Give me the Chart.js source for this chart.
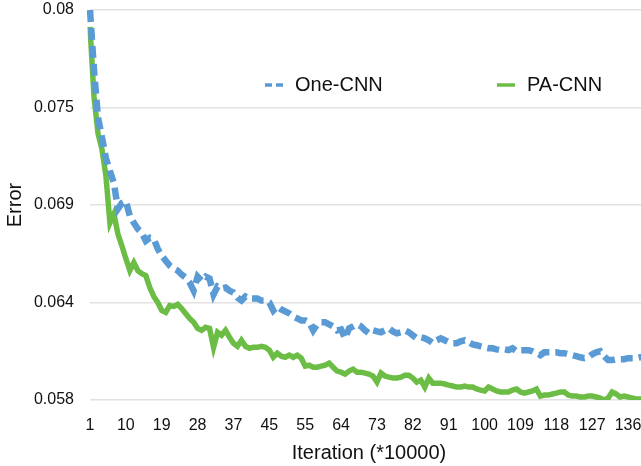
<!DOCTYPE html>
<html>
<head>
<meta charset="utf-8">
<script src="https://cdn.jsdelivr.net/npm/chart.js@4/dist/chart.umd.min.js"></script>
<style>
  html, body { margin: 0; padding: 0; background: #fff; overflow: hidden; }
  #wrap { width: 660px; height: 480px; margin-top: -14px; }
</style>
</head>
<body>
<div id="wrap"><canvas id="errChart" width="660" height="480"></canvas></div>
<script>
// One-CNN vs PA-CNN training error (one point per 10000 iterations)
var oneCnnError = [
  0.08000, 0.07663, 0.07394, 0.07282, 0.07164, 0.07091, 0.07024, 0.06878, 0.06911, 0.06922,
  0.06838, 0.06799, 0.06765, 0.06743, 0.06698, 0.06715, 0.06709, 0.06653, 0.06614, 0.06586,
  0.06558, 0.06541, 0.06530, 0.06507, 0.06490, 0.06462, 0.06417, 0.06496, 0.06473, 0.06496,
  0.06485, 0.06395, 0.06440, 0.06429, 0.06434, 0.06417, 0.06406, 0.06378, 0.06361, 0.06384,
  0.06372, 0.06372, 0.06372, 0.06361, 0.06361, 0.06350, 0.06305, 0.06328, 0.06311, 0.06300,
  0.06288, 0.06271, 0.06260, 0.06249, 0.06249, 0.06238, 0.06193, 0.06227, 0.06238, 0.06238,
  0.06227, 0.06215, 0.06193, 0.06198, 0.06148, 0.06204, 0.06215, 0.06227, 0.06215, 0.06193,
  0.06176, 0.06193, 0.06187, 0.06182, 0.06193, 0.06204, 0.06187, 0.06176, 0.06182, 0.06193,
  0.06182, 0.06165, 0.06148, 0.06154, 0.06148, 0.06137, 0.06120, 0.06137, 0.06148, 0.06137,
  0.06126, 0.06120, 0.06120, 0.06131, 0.06137, 0.06126, 0.06114, 0.06109, 0.06103, 0.06097,
  0.06092, 0.06092, 0.06086, 0.06081, 0.06086, 0.06081, 0.06092, 0.06075, 0.06081, 0.06081,
  0.06081, 0.06075, 0.06064, 0.06053, 0.06069, 0.06069, 0.06069, 0.06069, 0.06064, 0.06064,
  0.06058, 0.06053, 0.06047, 0.06041, 0.06036, 0.06041, 0.06058, 0.06069, 0.06075, 0.06047,
  0.06025, 0.06025, 0.06030, 0.06030, 0.06030, 0.06036, 0.06036, 0.06036, 0.06041, 0.06041,
  0.06041
];
var paCnnError = [
  0.07905, 0.07512, 0.07304, 0.07214, 0.07063, 0.06799, 0.06850, 0.06737, 0.06670, 0.06597,
  0.06530, 0.06575, 0.06530, 0.06513, 0.06502, 0.06434, 0.06384, 0.06350, 0.06305, 0.06294,
  0.06333, 0.06328, 0.06339, 0.06316, 0.06288, 0.06260, 0.06238, 0.06204, 0.06193, 0.06210,
  0.06204, 0.06097, 0.06182, 0.06165, 0.06193, 0.06154, 0.06120, 0.06103, 0.06137, 0.06103,
  0.06092, 0.06097, 0.06097, 0.06103, 0.06097, 0.06081, 0.06041, 0.06064, 0.06047, 0.06041,
  0.06053, 0.06041, 0.06053, 0.06036, 0.05991, 0.05996, 0.05985, 0.05985, 0.05991, 0.05996,
  0.06008, 0.05985, 0.05963, 0.05957, 0.05946, 0.05963, 0.05974, 0.05957, 0.05957, 0.05952,
  0.05946, 0.05935, 0.05901, 0.05952, 0.05935, 0.05929, 0.05924, 0.05924, 0.05929, 0.05940,
  0.05940, 0.05924, 0.05901, 0.05912, 0.05873, 0.05924, 0.05895, 0.05895, 0.05895, 0.05890,
  0.05884, 0.05879, 0.05873, 0.05873, 0.05879, 0.05873, 0.05873, 0.05862, 0.05856, 0.05851,
  0.05873, 0.05862, 0.05851, 0.05845, 0.05845, 0.05845, 0.05856, 0.05862, 0.05845, 0.05839,
  0.05845, 0.05851, 0.05862, 0.05822, 0.05828, 0.05828, 0.05834, 0.05839, 0.05845, 0.05845,
  0.05828, 0.05822, 0.05822, 0.05817, 0.05817, 0.05822, 0.05822, 0.05817, 0.05811, 0.05800,
  0.05811, 0.05845, 0.05834, 0.05817, 0.05822, 0.05817, 0.05811, 0.05806, 0.05806, 0.05806,
  0.05800
];

var xTickLabels = ['1','10','19','28','37','45','55','64','73','82','91','100','109','118','127','136'];
var xTickEvery = 9;
var yTickValues = [0.058, 0.0635, 0.069, 0.0745, 0.08];
var yTickLabels = ['0.058', '0.064', '0.069', '0.075', '0.08'];

// category per logged point
var iterations = oneCnnError.map(function (v, i) { return String(i + 1); });

var FONT = '"Liberation Sans", Arial, Helvetica, sans-serif';
var BLUE = '#5b9bd5';
var GREEN = '#6cbd45';

// legend drawn inside the plot, like the original
var insideLegend = {
  id: 'insideLegend',
  afterDraw: function (chart) {
    var ctx = chart.ctx;
    var slots = [265, 497];
    var y = chart.chartArea.top + 75;
    ctx.save();
    ctx.font = '20px ' + FONT;
    ctx.textBaseline = 'middle';
    ctx.fillStyle = '#111';
    chart.data.datasets.forEach(function (ds, i) {
      var x = slots[i];
      ctx.beginPath();
      ctx.lineWidth = 3.5;
      ctx.strokeStyle = ds.borderColor;
      ctx.setLineDash(ds.borderDash ? [7, 4] : []);
      ctx.moveTo(x, y);
      ctx.lineTo(x + 18, y);
      ctx.stroke();
      ctx.setLineDash([]);
      ctx.fillText(ds.label, x + 30, y);
    });
    ctx.restore();
  }
};

new Chart(document.getElementById('errChart'), {
  type: 'line',
  data: {
    labels: iterations,
    datasets: [
      {
        label: 'One-CNN',
        data: oneCnnError,
        borderColor: BLUE,
        borderWidth: 6.5,
        borderDash: [12, 6],
        borderCapStyle: 'butt',
        borderJoinStyle: 'miter',
        pointRadius: 0,
        tension: 0,
        fill: false
      },
      {
        label: 'PA-CNN',
        data: paCnnError,
        borderColor: GREEN,
        borderWidth: 5.5,
        borderJoinStyle: 'miter',
        pointRadius: 0,
        tension: 0,
        fill: false
      }
    ]
  },
  options: {
    responsive: false,
    animation: false,
    layout: { padding: { top: 8, right: 12, left: 0, bottom: 0 } },
    plugins: {
      legend: { display: false },
      tooltip: { enabled: false }
    },
    scales: {
      x: {
        grid: { display: false },
        border: { display: false },
        afterBuildTicks: function (scale) {
          scale.ticks = scale.ticks.filter(function (t, i) { return i % xTickEvery === 0; });
        },
        afterFit: function (scale) { scale.height = 66; },
        ticks: {
          autoSkip: false,
          maxRotation: 0,
          padding: 8,
          color: '#111',
          font: { family: FONT, size: 16 },
          callback: function (val, index) { return xTickLabels[index]; }
        },
        title: {
          display: true,
          text: 'Iteration (*10000)',
          color: '#111',
          font: { family: FONT, size: 20 },
          padding: { top: 1, bottom: 1 }
        }
      },
      y: {
        min: 0.058,
        max: 0.08,
        afterBuildTicks: function (scale) {
          scale.ticks = yTickValues.map(function (v) { return { value: v }; });
        },
        afterFit: function (scale) { scale.width = 90; },
        grid: { color: '#e2e2e2', lineWidth: 1.5, drawTicks: false },
        border: { display: false },
        ticks: {
          padding: 16,
          color: '#111',
          font: { family: FONT, size: 16, lineHeight: 1 },
          callback: function (val, index) { return yTickLabels[index]; }
        },
        title: {
          display: true,
          text: 'Error',
          color: '#111',
          font: { family: FONT, size: 20 },
          padding: { top: 3, bottom: 0 }
        }
      }
    }
  },
  plugins: [insideLegend]
});
</script>
</body>
</html>
